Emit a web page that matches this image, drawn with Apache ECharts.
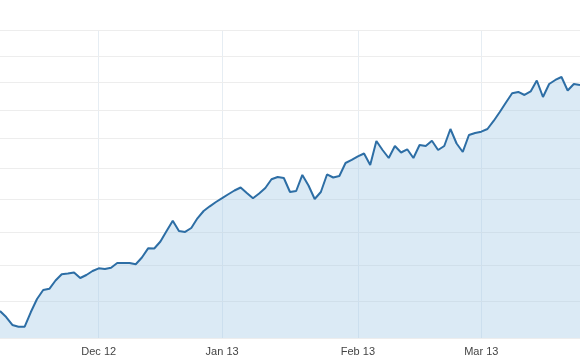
<!DOCTYPE html>
<html>
<head>
<meta charset="utf-8">
<script src="https://cdn.jsdelivr.net/npm/echarts@6/dist/echarts.min.js"></script>
<style>
html,body{margin:0;padding:0;background:#fff;}
#chart{width:580px;height:358px;}
</style>
</head>
<body>
<div id="chart"></div>
<script>
// Trading days (categories)
const categories = [
'2012-11-09',
'2012-11-12','2012-11-13','2012-11-14','2012-11-15','2012-11-16',
'2012-11-19','2012-11-20','2012-11-21','2012-11-22','2012-11-23',
'2012-11-26','2012-11-27','2012-11-28','2012-11-29','2012-11-30',
'2012-12-03','2012-12-04','2012-12-05','2012-12-06','2012-12-07',
'2012-12-10','2012-12-11','2012-12-12','2012-12-13','2012-12-14',
'2012-12-17','2012-12-18','2012-12-19','2012-12-20','2012-12-21',
'2012-12-24','2012-12-26','2012-12-27','2012-12-28','2012-12-31',
'2013-01-02','2013-01-03','2013-01-04',
'2013-01-07','2013-01-08','2013-01-09','2013-01-10','2013-01-11',
'2013-01-14','2013-01-15','2013-01-16','2013-01-17','2013-01-18',
'2013-01-21','2013-01-22','2013-01-23','2013-01-24','2013-01-25',
'2013-01-28','2013-01-29','2013-01-30','2013-01-31',
'2013-02-01',
'2013-02-04','2013-02-05','2013-02-06','2013-02-07','2013-02-08',
'2013-02-11','2013-02-12','2013-02-13','2013-02-14','2013-02-15',
'2013-02-18','2013-02-19','2013-02-20','2013-02-21','2013-02-22',
'2013-02-25','2013-02-26','2013-02-27','2013-02-28',
'2013-03-01',
'2013-03-04','2013-03-05','2013-03-06','2013-03-07','2013-03-08',
'2013-03-11','2013-03-12','2013-03-13','2013-03-14','2013-03-15',
'2013-03-18','2013-03-19','2013-03-20','2013-03-21','2013-03-22',
'2013-03-25'
];

// Series values
const values = [
1036.2,1028.0,1017.3,1015.0,1015.0,1034.8,1052.7,1065.2,1066.9,1078.6,
1087.6,1088.5,1090.2,1082.2,1086.5,1092.2,1096.1,1095.1,1097.0,1103.8,
1103.8,1103.8,1101.9,1111.8,1125.3,1125.0,1135.5,1151.3,1167.0,1151.3,
1149.8,1155.8,1170.7,1182.0,1189.3,1196.1,1202.1,1208.3,1214.3,1219.1,
1210.3,1201.9,1209.5,1218.3,1232.4,1236.1,1234.5,1211.9,1213.5,1239.4,
1222.3,1200.8,1211.9,1240.2,1235.3,1237.7,1259.1,1264.1,1270.1,1274.9,
1255.8,1296.1,1280.8,1267.4,1287.6,1276.6,1282.0,1267.4,1289.3,1287.6,
1296.6,1280.8,1287.6,1316.7,1291.8,1277.5,1306.4,1309.8,1312.1,1316.7,
1330.7,1346.5,1363.5,1380.1,1382.5,1377.0,1383.4,1403.5,1373.4,1397.1,
1404.5,1410.0,1385.2,1397.1,1395.3
];

// Tick labels on the x axis
const tickDates = ['2012-12-03','2013-01-02','2013-02-01','2013-03-01'];
const tickLabels = ['Dec 12','Jan 13','Feb 13','Mar 13'];

// Horizontal grid values (y axis)
const gridValues = [1000,1050,1100,1150,1200,1250,1300,1350,1400,1450,1500];

const chart = echarts.init(document.getElementById('chart'));

chart.setOption({
  animation: false,
  grid: { left: 0, right: -2.8, top: 30, bottom: 20, containLabel: false },
  xAxis: {
    type: 'category',
    data: categories,
    boundaryGap: false,
    axisLine: { show: false },
    axisTick: { show: false },
    axisLabel: {
      interval: (idx) => tickDates.indexOf(categories[idx]) >= 0,
      formatter: (v) => { const k = tickDates.indexOf(v); return k >= 0 ? tickLabels[k] : ''; },
      color: '#444',
      fontFamily: 'Liberation Sans, Arial, sans-serif',
      fontSize: 11,
      margin: 8
    },
    splitLine: {
      show: true,
      interval: (idx) => tickDates.indexOf(categories[idx]) >= 0,
      lineStyle: { color: '#e6edf3', width: 1 }
    }
  },
  yAxis: {
    type: 'log',
    logBase: 10,
    min: 1000,
    max: 1500,
    axisLine: { show: false },
    axisTick: { show: false },
    axisLabel: { show: false },
    splitLine: { show: false }
  },
  series: [
    {
      type: 'line',
      data: [],
      z: 1,
      silent: true,
      markLine: {
        z: 1,
        silent: true,
        symbol: 'none',
        label: { show: false },
        lineStyle: { color: '#ededed', width: 1, type: 'solid' },
        data: gridValues.map(v => ({ yAxis: v }))
      }
    },
    {
      type: 'line',
      data: values,
      z: 3,
      showSymbol: false,
      symbol: 'none',
      smooth: false,
      lineStyle: { color: '#2d6ea5', width: 2 },
      areaStyle: { color: '#a9cde8', opacity: 0.42, origin: 'start' }
    }
  ]
});
</script>
</body>
</html>
